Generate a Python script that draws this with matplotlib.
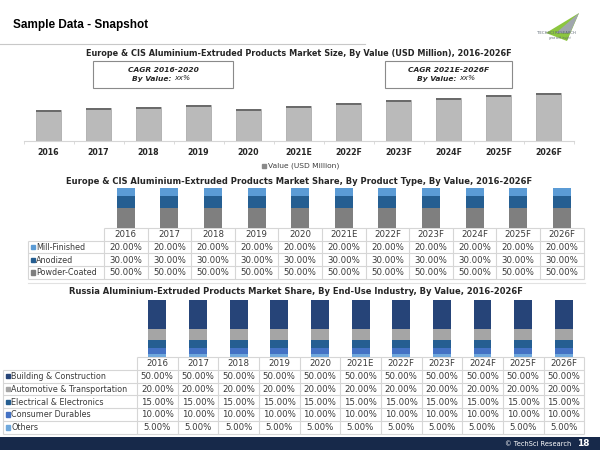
"""Sample data snapshot: Europe & CIS / Russia aluminium-extruded products."""
import matplotlib
matplotlib.use("Agg")
import matplotlib.pyplot as plt
from matplotlib.patches import Rectangle, Polygon

# ---- data -------------------------------------------------------------
years = ["2016", "2017", "2018", "2019", "2020", "2021E",
         "2022F", "2023F", "2024F", "2025F", "2026F"]

# market size (USD Million) - no axis in the source, relative heights read off
market_value = [3100, 3270, 3430, 3570, 3200, 3500, 3800, 4070, 4330, 4570, 4830]

product_types = ["Mill-Finished", "Anodized", "Powder-Coated"]
mill_finished = [20.0, 20.0, 20.0, 20.0, 20.0, 20.0, 20.0, 20.0, 20.0, 20.0, 20.0]
anodized = [30.0, 30.0, 30.0, 30.0, 30.0, 30.0, 30.0, 30.0, 30.0, 30.0, 30.0]
powder_coated = [50.0, 50.0, 50.0, 50.0, 50.0, 50.0, 50.0, 50.0, 50.0, 50.0, 50.0]

end_uses = ["Building & Construction", "Automotive & Transportation",
            "Electrical & Electronics", "Consumer Durables", "Others"]
building = [50.0, 50.0, 50.0, 50.0, 50.0, 50.0, 50.0, 50.0, 50.0, 50.0, 50.0]
automotive = [20.0, 20.0, 20.0, 20.0, 20.0, 20.0, 20.0, 20.0, 20.0, 20.0, 20.0]
electrical = [15.0, 15.0, 15.0, 15.0, 15.0, 15.0, 15.0, 15.0, 15.0, 15.0, 15.0]
consumer = [10.0, 10.0, 10.0, 10.0, 10.0, 10.0, 10.0, 10.0, 10.0, 10.0, 10.0]
others = [5.0, 5.0, 5.0, 5.0, 5.0, 5.0, 5.0, 5.0, 5.0, 5.0, 5.0]

# ---- styles -------------------------------------------------------------
TXT = "#3a3a3a"
GRID = "#d6d6d6"
prod_colors = ["#5b9bd5", "#255e91", "#7f7f7f"]
enduse_colors = ["#264478", "#a5a5a5", "#255e91", "#4472c4", "#6fa8dc"]

W, H = 600, 450
fig = plt.figure(figsize=(6, 4.5), dpi=100)


def px_axes(x0, y0, x1, y1):
    """axes from pixel box (top-left origin)"""
    return fig.add_axes([x0 / W, 1 - y1 / H, (x1 - x0) / W, (y1 - y0) / H])


# overlay in pixel coords for texts, boxes, tables
ov = fig.add_axes([0, 0, 1, 1])
ov.set_xlim(0, W)
ov.set_ylim(H, 0)
ov.axis("off")

# header
ov.text(13, 25, "Sample Data - Snapshot", fontsize=8.5, fontweight="bold",
        family="Liberation Sans", color="black", va="center")
ov.plot([0, 365], [44, 44], color="#c8c8c8", lw=0.8)

# logo
ov.add_patch(Polygon([(546, 33), (579, 13), (567, 41)], closed=True,
                     facecolor="#8cc63f", edgecolor="none"))
ov.add_patch(Polygon([(556, 33), (579, 13), (570, 33)], closed=True,
                     facecolor="#a0a6ad", edgecolor="none"))
ov.text(556, 33.5, "TECHSCI RESEARCH", fontsize=2.8, color="#5a6570",
        ha="center", va="center")
ov.text(560, 38.5, "grow with insight", fontsize=1.8, color="#5a6570",
        ha="center", va="center", style="italic")

# ---- chart 1: market size -------------------------------------------------
ov.text(299, 53, "Europe & CIS Aluminium-Extruded Products Market Size, "
        "By Value (USD Million), 2016-2026F",
        fontsize=5.85, fontweight="bold", color="#262626", ha="center", va="center")

for (bx0, bx1), period in [((93, 233), "2016-2020"), ((385, 512), "2021E-2026F")]:
    ov.add_patch(Rectangle((bx0, 61), bx1 - bx0, 27, facecolor="white",
                           edgecolor="#8a8a8a", lw=0.8))
    cx = (bx0 + bx1) / 2
    ov.text(cx, 69.5, "CAGR " + period, fontsize=5.4, fontweight="bold",
            style="italic", color="#262626", ha="center", va="center")
    ov.text(cx + 11, 78.5, "By Value: ", fontsize=5.4, fontweight="bold",
            style="italic", color="#262626", ha="right", va="center")
    ov.text(cx + 11, 78.5, "xx%", fontsize=5.4, style="italic",
            color="#262626", ha="left", va="center")

ax1 = px_axes(23.5, 88, 573.5, 141)
x = list(range(len(years)))
ax1.bar(x, market_value, width=0.5, color="#bababa", edgecolor="#a3a3a3", lw=0.5)
cap = 180
ax1.bar(x, [cap] * len(x), bottom=[v - cap for v in market_value], width=0.5,
        color="#6b6b6b", lw=0)
ax1.set_xlim(-0.5, 10.5)
ax1.set_ylim(0, 5300)
for s in ["top", "right", "left"]:
    ax1.spines[s].set_visible(False)
ax1.spines["bottom"].set_color(GRID)
ax1.spines["bottom"].set_linewidth(0.8)
ax1.set_yticks([])
ax1.set_xticks(x)
ax1.set_xticklabels(years, fontsize=5.7, fontweight="bold", color="#262626")
ax1.set_xticks([i + 0.5 for i in range(-1, len(years))], minor=True)
ax1.tick_params(axis="x", which="major", length=0, pad=5)
ax1.tick_params(axis="x", which="minor", length=2, color=GRID, width=0.6)
ax1.patch.set_alpha(0)

ov.add_patch(Rectangle((262, 163.5), 4, 4, color="#8a8a8a"))
ov.text(267.5, 165.5, "Value (USD Million)", fontsize=5.4, color="#404040",
        va="center", ha="left")


# ---- helper for the data tables -------------------------------------------
def draw_table(x_label, x_data, col_w, y_top, row_h, labels, colors, rows,
               fs_label=5.8, fs_num=6.2, sq=4.4):
    n = len(years)
    x_end = x_data + n * col_w
    y_bot = y_top + (len(labels) + 1) * row_h
    kw = dict(color=GRID, lw=0.8, solid_capstyle="butt")
    ov.plot([x_data, x_end], [y_top, y_top], **kw)
    for r in range(1, len(labels) + 2):
        yy = y_top + r * row_h
        ov.plot([x_label, x_end], [yy, yy], **kw)
    for i in range(n + 1):
        xx = x_data + i * col_w
        ov.plot([xx, xx], [y_top, y_bot], **kw)
    ov.plot([x_label, x_label], [y_top + row_h, y_bot], **kw)
    for i, yr in enumerate(years):
        ov.text(x_data + (i + 0.5) * col_w, y_top + row_h / 2 + 0.3, yr,
                fontsize=fs_num, color=TXT, ha="center", va="center")
    for r, (lab, col, vals) in enumerate(zip(labels, colors, rows)):
        yc = y_top + (r + 1.5) * row_h
        ov.add_patch(Rectangle((x_label + 3, yc - sq / 2), sq, sq, color=col))
        ov.text(x_label + 4 + sq, yc + 0.3, lab, fontsize=fs_label, color=TXT,
                ha="left", va="center")
        for i, v in enumerate(vals):
            ov.text(x_data + (i + 0.5) * col_w, yc + 0.3, f"{v:.2f}%",
                    fontsize=fs_num, color=TXT, ha="center", va="center")


# ---- chart 2: product type -------------------------------------------------
ov.text(299, 182, "Europe & CIS Aluminium-Extruded Products Market Share, "
        "By Product Type, By Value, 2016-2026F",
        fontsize=6.0, fontweight="bold", color="#262626", ha="center", va="center")

c2_xdata, c2_colw = 104, 43.6
ax2 = px_axes(c2_xdata, 188, c2_xdata + 11 * c2_colw, 228)
bottom = [0.0] * len(years)
for vals, col in zip([powder_coated, anodized, mill_finished], prod_colors[::-1]):
    ax2.bar(x, vals, bottom=bottom, width=0.41, color=col, lw=0)
    bottom = [b + v for b, v in zip(bottom, vals)]
ax2.set_xlim(-0.5, 10.5)
ax2.set_ylim(0, 100)
ax2.axis("off")

draw_table(28, c2_xdata, c2_colw, 228, 12.7, product_types, prod_colors,
           [mill_finished, anodized, powder_coated])

ov.plot([28, 585], [283, 283], color="#e2e2e2", lw=0.8)

# ---- chart 3: end-use industry ---------------------------------------------
ov.text(296, 291, "Russia Aluminium-Extruded Products Market Share, "
        "By End-Use Industry, By Value, 2016-2026F",
        fontsize=6.0, fontweight="bold", color="#262626", ha="center", va="center")

c3_xdata, c3_colw = 137, 40.65
ax3 = px_axes(c3_xdata, 300, c3_xdata + 11 * c3_colw, 357)
bottom = [0.0] * len(years)
for vals, col in zip([others, consumer, electrical, automotive, building],
                     enduse_colors[::-1]):
    ax3.bar(x, vals, bottom=bottom, width=0.44, color=col, lw=0)
    bottom = [b + v for b, v in zip(bottom, vals)]
ax3.set_xlim(-0.5, 10.5)
ax3.set_ylim(0, 100)
ax3.axis("off")

draw_table(3, c3_xdata, c3_colw, 357, 12.8, end_uses, enduse_colors,
           [building, automotive, electrical, consumer, others])

# ---- footer ------------------------------------------------------------------
ov.add_patch(Rectangle((0, 437), W, 13, color="#17294a", lw=0))
ov.text(571, 443.8, "\u00a9 TechSci Research", fontsize=4.8, color="white",
        ha="right", va="center")
ov.text(583, 443.5, "18", fontsize=6.5, fontweight="bold", color="white",
        ha="center", va="center")

fig.savefig("out.png", dpi=100)
